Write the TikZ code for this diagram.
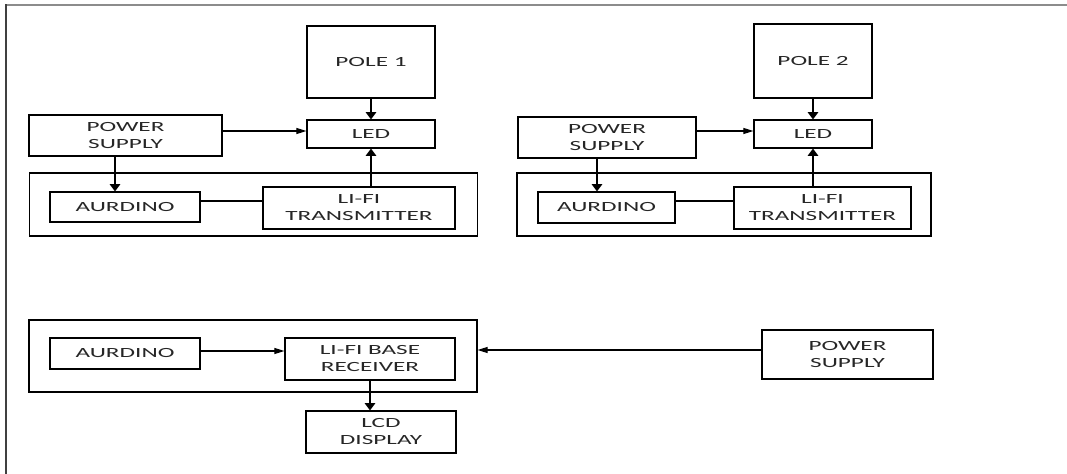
\documentclass[tikz,border=0pt]{standalone}
\usepackage{fontspec}
\setmainfont[FakeStretch=1.8]{Carlito}
\usetikzlibrary{arrows.meta}
\newlength\pxu \setlength\pxu{0.75pt}
\begin{document}
\begin{tikzpicture}[x=0.75pt,y=-0.75pt,
  box/.style={draw=black, line width=0.9pt, inner sep=0pt, align=center, text=black!85, font=\fontsize{10.5}{12.75}\selectfont},
  harr/.style={draw=black, line width=0.8pt, -{Triangle[length=7.5pt,width=4.5pt]}},
  varr/.style={draw=black, line width=0.8pt, -{Triangle[length=5.5pt,width=8pt]}},
  link/.style={draw=black, line width=0.8pt}]
\useasboundingbox (0,0) rectangle (1067,474);
\draw[black!45, line width=1.5pt] (1067,5) -- (6,5);
\draw[black!75, line width=1.3pt] (6,4.5) -- (6,474);

% panel 1
\node[box, minimum width=448\pxu, minimum height=63\pxu] (outer1) at (253.5,204.5) {};
\node[box, minimum width=128\pxu, minimum height=72\pxu] (pole1) at (371,62) {POLE 1};
\node[box, minimum width=128\pxu, minimum height=28\pxu] (led1) at (371,134) {LED};
\node[box, minimum width=193\pxu, minimum height=41\pxu] (ps1) at (125.5,135.5) {POWER\\SUPPLY};
\node[box, minimum width=150\pxu, minimum height=30\pxu] (aurd1) at (125,207) {AURDINO};
\node[box, minimum width=192\pxu, minimum height=42\pxu] (trans1) at (359,208) {LI-FI\\TRANSMITTER};
\draw[varr] (pole1.south) -- (led1.north);
\draw[harr] ([yshift=4.5\pxu]ps1.east) -- ([yshift=4.5\pxu]ps1.east -| led1.west);
\draw[varr] ([xshift=-10.5\pxu]ps1.south) -- ([xshift=-10.5\pxu]ps1.south |- aurd1.north);
\draw[link] ([yshift=6\pxu]aurd1.east) -- ([yshift=6\pxu]aurd1.east -| trans1.west);
\draw[varr] (trans1.north -| led1.south) -- (led1.south);

% panel 2
\node[box, minimum width=414\pxu, minimum height=63\pxu] (outer2) at (724,204.5) {};
\node[box, minimum width=118\pxu, minimum height=74\pxu] (pole2) at (813,61) {POLE 2};
\node[box, minimum width=118\pxu, minimum height=28\pxu] (led2) at (813,134) {LED};
\node[box, minimum width=178\pxu, minimum height=41\pxu] (ps2) at (607,137.5) {POWER\\SUPPLY};
\node[box, minimum width=137\pxu, minimum height=31\pxu] (aurd2) at (606.5,207.5) {AURDINO};
\node[box, minimum width=177\pxu, minimum height=42\pxu] (trans2) at (822.5,208) {LI-FI\\TRANSMITTER};
\draw[varr] (pole2.south) -- (led2.north);
\draw[harr] ([yshift=6.5\pxu]ps2.east) -- ([yshift=6.5\pxu]ps2.east -| led2.west);
\draw[varr] ([xshift=-10\pxu]ps2.south) -- ([xshift=-10\pxu]ps2.south |- aurd2.north);
\draw[link] ([yshift=6.5\pxu]aurd2.east) -- ([yshift=6.5\pxu]aurd2.east -| trans2.west);
\draw[varr] (trans2.north -| led2.south) -- (led2.south);

% panel 3
\node[box, minimum width=448\pxu, minimum height=72\pxu] (outer3) at (253,356) {};
\node[box, minimum width=150\pxu, minimum height=31\pxu] (aurd3) at (125,353.5) {AURDINO};
\node[box, minimum width=170\pxu, minimum height=42\pxu] (rec) at (370,359) {LI-FI BASE\\RECEIVER};
\node[box, minimum width=150\pxu, minimum height=42\pxu] (lcd) at (381,432) {LCD\\DISPLAY};
\node[box, minimum width=171\pxu, minimum height=49\pxu] (ps3) at (847.5,354.5) {POWER\\SUPPLY};
\draw[harr] ([yshift=2.5\pxu]aurd3.east) -- ([yshift=2.5\pxu]aurd3.east -| rec.west);
\draw[varr] (rec.south) -- (rec.south |- lcd.north);
\draw[harr] ([yshift=4.5\pxu]ps3.west) -- ([yshift=4.5\pxu]ps3.west -| outer3.east);
\end{tikzpicture}
\end{document}
